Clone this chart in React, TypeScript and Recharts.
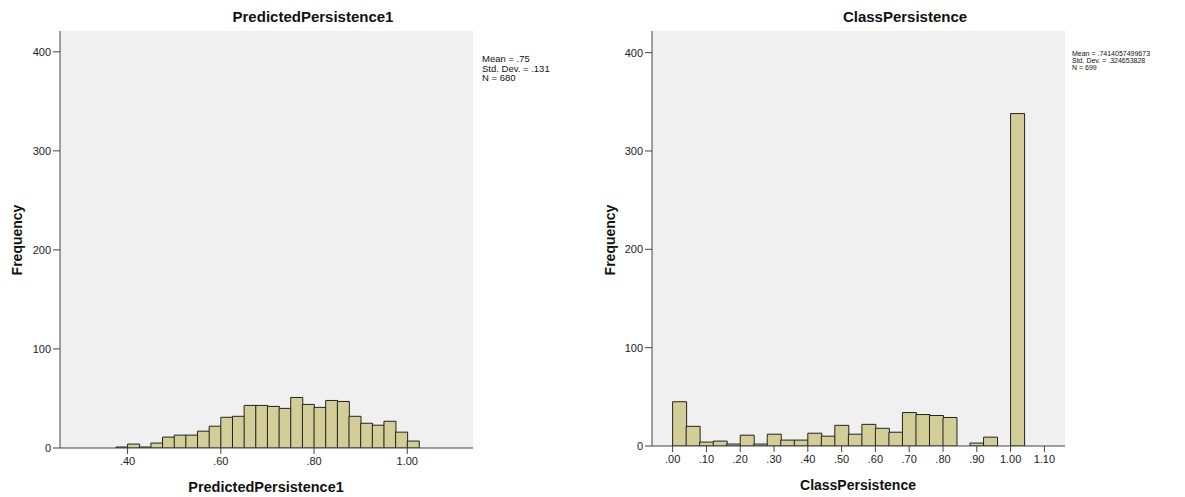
import React from "react";
import { BarChart, Bar, XAxis, YAxis, CartesianGrid } from "recharts";

// histogram bins (left edge of first bin + width), counts
const predictedBinStart = 0.375;
const predictedBinWidth = 0.025;
const predictedCounts = [
  1, 4, 1, 5, 11, 13, 13, 17, 22, 31, 32, 43, 43, 42, 40, 51, 44, 41, 48, 47,
  32, 25, 23, 27, 16, 7,
];
const predictedTicks = [0.4, 0.6, 0.8, 1.0];
const predictedDomain = [0.255, 1.141];

const classBinStart = 0;
const classBinWidth = 0.04;
const classCounts = [
  45, 20, 4, 5, 2, 11, 2, 12, 6, 6, 13, 10, 21, 12, 22, 18, 14, 34, 32, 31, 29,
  0, 3, 9, 0, 338,
];
const classTicks = [0, 0.1, 0.2, 0.3, 0.4, 0.5, 0.6, 0.7, 0.8, 0.9, 1.0, 1.1];
const classDomain = [-0.061, 1.161];

const freqTicks = [0, 100, 200, 300, 400];

const predictedStats = ["Mean = .75", "Std. Dev. = .131", "N = 680"];
const classStats = ["Mean = .7414057499673", "Std. Dev. = .324653828", "N = 699"];

const FONT = "'Liberation Sans', Arial, sans-serif";
const BAR_FILL = "#D3CE97";
const FRAME = "#444";

const toBins = (start: number, width: number, counts: number[]) =>
  counts.map((count, i) => ({ mid: +(start + width * (i + 0.5)).toFixed(4), count }));

const fmt = (v: number) => {
  const s = v.toFixed(2);
  return s.startsWith("0") ? s.slice(1) : s;
};

function Histogram({
  left,
  width,
  yAxisWidth,
  marginRight,
  xAxisHeight,
  data,
  xDomain,
  xTicks,
  yMax,
}: {
  left: number;
  width: number;
  yAxisWidth: number;
  marginRight: number;
  xAxisHeight: number;
  data: { mid: number; count: number }[];
  xDomain: number[];
  xTicks: number[];
  yMax: number;
}) {
  const tick = { fill: "#222", fontSize: 11, fontFamily: FONT };
  return (
    <div style={{ position: "absolute", left, top: 0 }}>
      <BarChart
        width={width}
        height={497}
        data={data}
        margin={{ top: 31, right: marginRight, left: 0, bottom: 0 }}
        barCategoryGap={0}
        barGap={0}
      >
        <CartesianGrid horizontal={false} vertical={false} fill="#F0F0F0" stroke="none" />
        <XAxis
          dataKey="mid"
          type="number"
          domain={xDomain}
          allowDataOverflow
          ticks={xTicks}
          interval={0}
          tickFormatter={fmt}
          height={xAxisHeight}
          tickSize={6}
          tickMargin={3}
          stroke={FRAME}
          tick={tick}
        />
        <XAxis
          xAxisId="frame"
          orientation="top"
          dataKey="mid"
          type="number"
          domain={xDomain}
          allowDataOverflow
          height={0}
          tick={false}
          tickLine={false}
          stroke={FRAME}
        />
        <YAxis
          type="number"
          domain={[0, yMax]}
          allowDataOverflow
          ticks={freqTicks}
          interval={0}
          width={yAxisWidth}
          tickSize={7}
          tickMargin={2}
          stroke={FRAME}
          tick={tick}
        />
        <YAxis
          yAxisId="frame"
          orientation="right"
          type="number"
          domain={[0, yMax]}
          width={0}
          tick={false}
          tickLine={false}
          stroke={FRAME}
        />
        <Bar dataKey="count" fill={BAR_FILL} stroke="#222" strokeWidth={1} isAnimationActive={false} />
      </BarChart>
    </div>
  );
}

export default function App() {
  const predicted = toBins(predictedBinStart, predictedBinWidth, predictedCounts);
  const cls = toBins(classBinStart, classBinWidth, classCounts);
  return (
    <div style={{ position: "absolute", left: 0, top: 0, width: 1185, height: 497, background: "#fff" }}>
      <Histogram
        left={0}
        width={600}
        yAxisWidth={60}
        marginRight={127}
        xAxisHeight={49}
        data={predicted}
        xDomain={predictedDomain}
        xTicks={predictedTicks}
        yMax={421}
      />
      <Histogram
        left={590}
        width={595}
        yAxisWidth={62}
        marginRight={120}
        xAxisHeight={51}
        data={cls}
        xDomain={classDomain}
        xTicks={classTicks}
        yMax={422}
      />
      <svg
        width={1185}
        height={497}
        style={{ position: "absolute", left: 0, top: 0, pointerEvents: "none" }}
        fontFamily={FONT}
      >
        <text x={313} y={22} textAnchor="middle" fontSize={15} fontWeight="bold" fill="#111">
          PredictedPersistence1
        </text>
        <text x={905} y={22} textAnchor="middle" fontSize={15} fontWeight="bold" fill="#111">
          ClassPersistence
        </text>
        <text x={266} y={492} textAnchor="middle" fontSize={14.5} fontWeight="bold" fill="#111">
          PredictedPersistence1
        </text>
        <text x={858} y={490} textAnchor="middle" fontSize={14} fontWeight="bold" fill="#111">
          ClassPersistence
        </text>
        <text
          transform="translate(22,240) rotate(-90)"
          textAnchor="middle"
          fontSize={14}
          fontWeight="bold"
          fill="#111"
        >
          Frequency
        </text>
        <text
          transform="translate(615,240) rotate(-90)"
          textAnchor="middle"
          fontSize={14}
          fontWeight="bold"
          fill="#111"
        >
          Frequency
        </text>
        {predictedStats.map((s, i) => (
          <text key={s} x={482} y={62 + i * 9.5} fontSize={9.5} fill="#111">
            {s}
          </text>
        ))}
        {classStats.map((s, i) => (
          <text key={s} x={1072} y={56 + i * 7.2} fontSize={7} fill="#111">
            {s}
          </text>
        ))}
      </svg>
    </div>
  );
}
